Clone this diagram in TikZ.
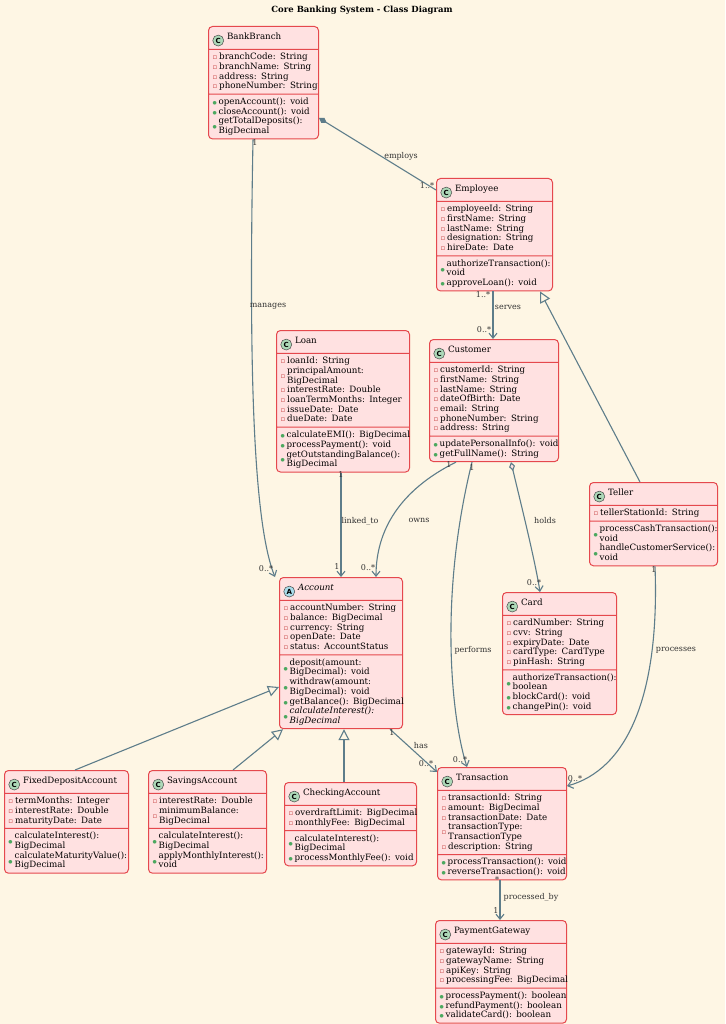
\documentclass[tikz,border=0pt]{standalone}
\usepackage{fontspec}
\setmainfont{DejaVu Serif}
\newfontfamily\symf{DejaVu Sans}
\usetikzlibrary{shapes.multipart,arrows.meta}
\definecolor{bg}{HTML}{FEF6E4}
\definecolor{boxf}{HTML}{FFE1E1}
\definecolor{boxb}{HTML}{E5484D}
\definecolor{ln}{HTML}{5E7D8A}
\definecolor{iconc}{HTML}{ADD8B8}
\definecolor{icona}{HTML}{A8DCEA}
\definecolor{pubc}{HTML}{4CA860}
\definecolor{privc}{HTML}{C43A3A}
\newcommand\pv{{\color{privc}\symf\scalebox{0.8}{▫}}}
\newcommand\pb{{\color{pubc}\symf\scalebox{0.55}{●}}}
\newcommand\pvt{\smash{\raisebox{-4.85pt}{\pv}}}
\newcommand\pbt{\smash{\raisebox{-4.85pt}{\pb}}}
\newcommand\ico[2]{\tikz[baseline=-3pt]\node[circle,fill=#2,draw=black!70,line width=0.5pt,inner sep=0pt,minimum size=11pt,text width={},font=\symf\bfseries\scriptsize,text=black]{#1};\hspace{3pt}}
\newcommand\umlfont{\fontsize{8.7}{9.7}\selectfont\setbox\strutbox\hbox{\vrule height 7.4pt depth 2.3pt width 0pt}}
\newcommand\uml[7]{\node[cls,text width=#4] (#1) at (#2,#3) {\rule{0pt}{10pt}#5\rule[-2.5pt]{0pt}{2.5pt}\nodepart{two}\begin{tabular}{@{}l@{\hspace{2pt}}l@{}}#6\end{tabular}\nodepart{three}\begin{tabular}{@{}l@{\hspace{2pt}}l@{}}#7\end{tabular}};}
\begin{document}
\begin{tikzpicture}[x=1pt,y=-1pt,
 cls/.style={rectangle split,rectangle split parts=3,draw=boxb,fill=boxf,line width=1pt,rounded corners=4pt,inner xsep=4pt,inner ysep=2.5pt,anchor=north west,rectangle split part align={center,left,left},font=\umlfont},
 lk/.style={draw=ln,line width=1.1pt},
 ar/.style={lk,-{Straight Barb[length=5pt,width=8pt]}},
 gen/.style={lk,-{Triangle[open,length=11pt,width=11pt,fill=bg]}},
 lb/.style={font=\fontsize{8}{9}\selectfont,text=black!80,inner sep=1pt}]
\fill[bg] (0,0) rectangle (725,1024);
\useasboundingbox (0,0) rectangle (725,1024);
\node[font=\bfseries\fontsize{8.5}{10}\selectfont] (title) at (362,10) {Core Banking System - Class Diagram};

\uml{bb}{208}{26}{102pt}{\ico{C}{iconc}BankBranch}
{\pv&branchCode: String\\\pv&branchName: String\\\pv&address: String\\\pv&phoneNumber: String\\}
{\pb&openAccount(): void\\\pb&closeAccount(): void\\\pbt&getTotalDeposits():\\&BigDecimal\\}

\uml{emp}{436}{178}{108pt}{\ico{C}{iconc}Employee}
{\pv&employeeId: String\\\pv&firstName: String\\\pv&lastName: String\\\pv&designation: String\\\pv&hireDate: Date\\}
{\pbt&authorizeTransaction():\\&void\\\pb&approveLoan(): void\\}

\uml{loan}{276}{330}{125pt}{\ico{C}{iconc}Loan}
{\pv&loanId: String\\\pvt&principalAmount:\\&BigDecimal\\\pv&interestRate: Double\\\pv&loanTermMonths: Integer\\\pv&issueDate: Date\\\pv&dueDate: Date\\}
{\pb&calculateEMI(): BigDecimal\\\pb&processPayment(): void\\\pbt&getOutstandingBalance():\\&BigDecimal\\}

\uml{cust}{429}{339}{121pt}{\ico{C}{iconc}Customer}
{\pv&customerId: String\\\pv&firstName: String\\\pv&lastName: String\\\pv&dateOfBirth: Date\\\pv&email: String\\\pv&phoneNumber: String\\\pv&address: String\\}
{\pb&updatePersonalInfo(): void\\\pb&getFullName(): String\\}

\uml{tel}{589}{482}{120pt}{\ico{C}{iconc}Teller}
{\pv&tellerStationId: String\\}
{\pbt&processCashTransaction():\\&void\\\pbt&handleCustomerService():\\&void\\}

\uml{acc}{279}{577}{115pt}{\ico{A}{icona}\textit{Account}}
{\pv&accountNumber: String\\\pv&balance: BigDecimal\\\pv&currency: String\\\pv&openDate: Date\\\pv&status: AccountStatus\\}
{\pbt&deposit(amount:\\&BigDecimal): void\\\pbt&withdraw(amount:\\&BigDecimal): void\\\pb&getBalance(): BigDecimal\\\pbt&\textit{calculateInterest():}\\&\textit{BigDecimal}\\}

\uml{card}{502}{592}{106pt}{\ico{C}{iconc}Card}
{\pv&cardNumber: String\\\pv&cvv: String\\\pv&expiryDate: Date\\\pv&cardType: CardType\\\pv&pinHash: String\\}
{\pbt&authorizeTransaction():\\&boolean\\\pb&blockCard(): void\\\pb&changePin(): void\\}

\uml{fd}{4}{770}{116pt}{\ico{C}{iconc}FixedDepositAccount}
{\pv&termMonths: Integer\\\pv&interestRate: Double\\\pv&maturityDate: Date\\}
{\pbt&calculateInterest():\\&BigDecimal\\\pbt&calculateMaturityValue():\\&BigDecimal\\}

\uml{sav}{148}{770}{110pt}{\ico{C}{iconc}SavingsAccount}
{\pv&interestRate: Double\\\pvt&minimumBalance:\\&BigDecimal\\}
{\pbt&calculateInterest():\\&BigDecimal\\\pbt&applyMonthlyInterest():\\&void\\}

\uml{chk}{284}{782}{124pt}{\ico{C}{iconc}CheckingAccount}
{\pv&overdraftLimit: BigDecimal\\\pv&monthlyFee: BigDecimal\\}
{\pbt&calculateInterest():\\&BigDecimal\\\pb&processMonthlyFee(): void\\}

\uml{tx}{437}{767}{121pt}{\ico{C}{iconc}Transaction}
{\pv&transactionId: String\\\pv&amount: BigDecimal\\\pv&transactionDate: Date\\\pvt&transactionType:\\&TransactionType\\\pv&description: String\\}
{\pb&processTransaction(): void\\\pb&reverseTransaction(): void\\}

\uml{pg}{435}{920}{123pt}{\ico{C}{iconc}PaymentGateway}
{\pv&gatewayId: String\\\pv&gatewayName: String\\\pv&apiKey: String\\\pv&processingFee: BigDecimal\\}
{\pb&processPayment(): boolean\\\pb&refundPayment(): boolean\\\pb&validateCard(): boolean\\}

% connectors
\draw[lk,{Diamond[length=9pt,width=6pt]}-] (bb.east |- 0,118) -- (emp.west |- 0,190);
\node[lb] at (401,156) {employs}; \node[lb] at (427,186) {1..*};

\draw[ar] (253,0 |- bb.south) .. controls (249,350) and (252,520) .. (275,0 |- acc.north);
\node[lb] at (268,306) {manages}; \node[lb] at (255,143) {1}; \node[lb] at (266,569) {0..*};

\draw[ar] (493,0 |- emp.south) -- (493,0 |- cust.north);
\node[lb] at (508,307) {serves}; \node[lb] at (483,295) {1..*}; \node[lb] at (484,330) {0..*};

\draw[gen] (640,0 |- tel.north) -- (540,0 |- emp.south);

\draw[ar] (341,0 |- loan.south) -- (341,0 |- acc.north);
\node[lb] at (360,521) {linked\_to}; \node[lb] at (341,475) {1}; \node[lb] at (337,567) {1};

\draw[ar] (456,0 |- cust.south) .. controls (400,490) and (376,530) .. (376,0 |- acc.north);
\node[lb] at (419,520) {owns}; \node[lb] at (449,465) {1}; \node[lb] at (368,568) {0..*};

\draw[ar] (472,0 |- cust.south) .. controls (438,600) and (452,720) .. (467,0 |- tx.north);
\node[lb] at (473,650) {performs}; \node[lb] at (472,468) {1}; \node[lb] at (460,760) {0..*};

\draw[ar,{Diamond[open,fill=boxf,length=9pt,width=6pt]}-{Straight Barb[length=5pt,width=8pt]}] (511,0 |- cust.south) .. controls (520,500) and (535,560) .. (540,0 |- card.north);
\node[lb] at (545,521) {holds}; \node[lb] at (534,583) {0..*};

\draw[ar] (655,0 |- tel.south) .. controls (660,700) and (625,770) .. (tx.east |- 0,786);
\node[lb] at (676,650) {processes}; \node[lb] at (654,570) {1}; \node[lb] at (575,779) {0..*};

\draw[ar] (390,0 |- acc.south) -- (tx.west |- 0,772);
\node[lb] at (421,746) {has}; \node[lb] at (392,733) {1}; \node[lb] at (426,764) {0..*};

\draw[ar] (500,0 |- tx.south) -- (500,0 |- pg.north);
\node[lb] at (531,897) {processed\_by}; \node[lb] at (497,880) {*}; \node[lb] at (496,911) {1};

\draw[gen] (75,0 |- fd.north) -- (acc.west |- 0,687);
\draw[gen] (233,0 |- sav.north) -- (283,0 |- acc.south);
\draw[gen] (344,0 |- chk.north) -- (344,0 |- acc.south);
\end{tikzpicture}
\end{document}
